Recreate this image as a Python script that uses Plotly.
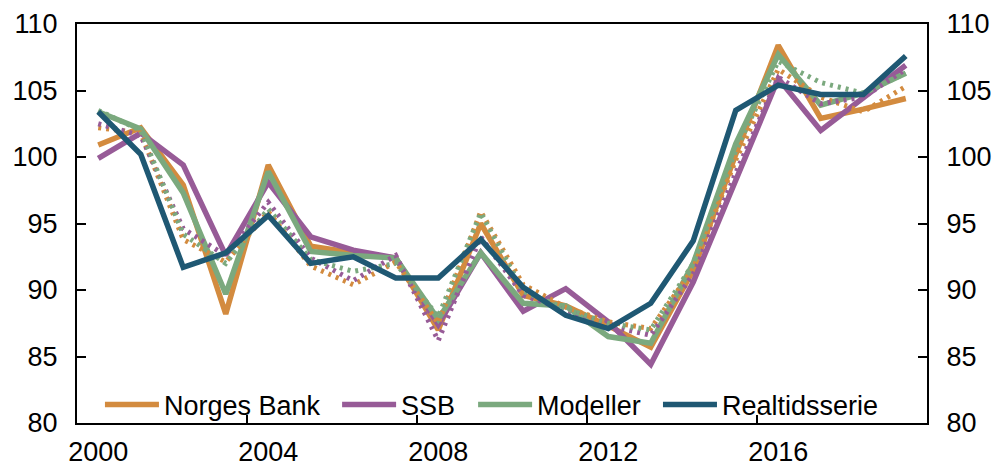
import plotly.graph_objects as go

years = list(range(2000, 2020))

# Index series (solid = latest estimates)
norges_bank = [100.9, 102.2, 97.9, 88.2, 99.4, 93.3, 92.8, 92.4, 87.0, 95.0,
               89.6, 88.8, 87.3, 85.7, 91.5, 100.2, 108.4, 102.9, 103.6, 104.4]
ssb = [99.9, 101.8, 99.4, 92.6, 98.1, 94.0, 93.0, 92.4, 87.4, 92.8,
       88.4, 90.1, 87.6, 84.4, 90.6, 98.2, 105.9, 102.0, 104.4, 106.9]
modeller = [103.4, 102.1, 97.3, 89.7, 98.9, 92.9, 92.6, 92.4, 87.8, 92.8,
            89.0, 88.8, 86.5, 86.0, 92.0, 101.0, 107.7, 103.9, 104.8, 106.3]

# Dotted series (earlier vintage of the same estimates)
norges_bank_dot = [102.2, 101.8, 93.8, 92.1, 95.9, 91.8, 90.4, 92.1, 87.5, 95.9,
                   90.4, 88.7, 87.6, 87.1, 91.6, 99.8, 106.6, 104.5, 103.4, 105.3]
ssb_dot = [102.5, 101.6, 94.6, 92.6, 96.6, 92.4, 90.7, 92.6, 86.2, 94.0,
           89.6, 88.5, 87.3, 86.6, 91.2, 98.8, 106.0, 104.0, 104.5, 106.6]
modeller_dot = [103.5, 102.0, 94.2, 92.0, 96.1, 92.3, 91.4, 92.0, 88.0, 95.8,
                89.9, 88.6, 87.5, 87.0, 92.0, 100.5, 107.2, 105.6, 104.8, 106.3]

realtid = [103.4, 100.2, 91.7, 92.8, 95.6, 92.0, 92.5, 90.9, 90.9, 93.8,
           90.2, 88.1, 87.1, 89.0, 93.7, 103.5, 105.4, 104.7, 104.7, 107.6]

x_label_years = [2000, 2004, 2008, 2012, 2016]
x_tick_marks = [2003.5, 2007.5, 2011.5, 2015.5]
y_ticks = [80, 85, 90, 95, 100, 105, 110]

ORANGE = "#D38B3F"
PURPLE = "#975B97"
GREEN = "#7BA97E"
BLUE = "#1F5873"

FONT = "Arial, 'Liberation Sans', sans-serif"
LW = 5.5

# one legend box per series, laid out along the bottom of the plot
legend_x = {"legend": 0.027, "legend2": 0.306, "legend3": 0.466, "legend4": 0.6835}

fig = go.Figure()

for name, vals, col, leg in [("Norges Bank", norges_bank, ORANGE, "legend"),
                             ("SSB", ssb, PURPLE, "legend2"),
                             ("Modeller", modeller, GREEN, "legend3")]:
    fig.add_trace(go.Scatter(x=years, y=vals, name=name, mode="lines", legend=leg,
                             line=dict(color=col, width=LW)))

for vals, col in [(norges_bank_dot, ORANGE), (ssb_dot, PURPLE), (modeller_dot, GREEN)]:
    fig.add_trace(go.Scatter(x=years, y=vals, mode="lines", showlegend=False,
                             line=dict(color=col, width=5, dash="3px,5px")))

# Real-time series sits on the overlay axes (year labels + right-hand scale)
fig.add_trace(go.Scatter(x=years, y=realtid, name="Realtidsserie", mode="lines",
                         legend="legend4", line=dict(color=BLUE, width=LW),
                         xaxis="x2", yaxis="y2"))

frame = dict(showline=True, linecolor="black", linewidth=2, showgrid=False,
             zeroline=False, automargin=False)
ytick = dict(range=[80, 110], tickvals=y_ticks, ticks="inside", ticklen=9,
             tickwidth=2, tickcolor="black", ticklabelstandoff=12)

legend_style = dict(orientation="h", xanchor="left", y=0.045, yanchor="middle",
                    bgcolor="rgba(0,0,0,0)", font=dict(family=FONT, size=27),
                    itemwidth=54)

fig.update_layout(
    width=998, height=466,
    margin=dict(l=77, r=71, t=24, b=43),
    paper_bgcolor="white", plot_bgcolor="white",
    font=dict(family=FONT, size=27, color="black"),
    # bottom axis: frame + tick marks between year groups
    xaxis=dict(range=[1999.5, 2019.5], tickvals=x_tick_marks, ticks="inside",
               ticklen=8, tickwidth=2, tickcolor="black", showticklabels=False,
               mirror=True, **frame),
    # overlay axis carrying the year labels
    xaxis2=dict(range=[1999.5, 2019.5], overlaying="x", matches="x", anchor="y2",
                side="bottom", tickvals=x_label_years,
                ticktext=[str(v) for v in x_label_years], ticks="",
                showline=False, showgrid=False, zeroline=False, automargin=False,
                ticklabelstandoff=10),
    yaxis=dict(**ytick, **frame),
    yaxis2=dict(**ytick, overlaying="y", side="right", matches="y",
                anchor="x2", **frame),
    legend=dict(x=legend_x["legend"], **legend_style),
    legend2=dict(x=legend_x["legend2"], **legend_style),
    legend3=dict(x=legend_x["legend3"], **legend_style),
    legend4=dict(x=legend_x["legend4"], **legend_style),
)

fig.write_html("out.html")
